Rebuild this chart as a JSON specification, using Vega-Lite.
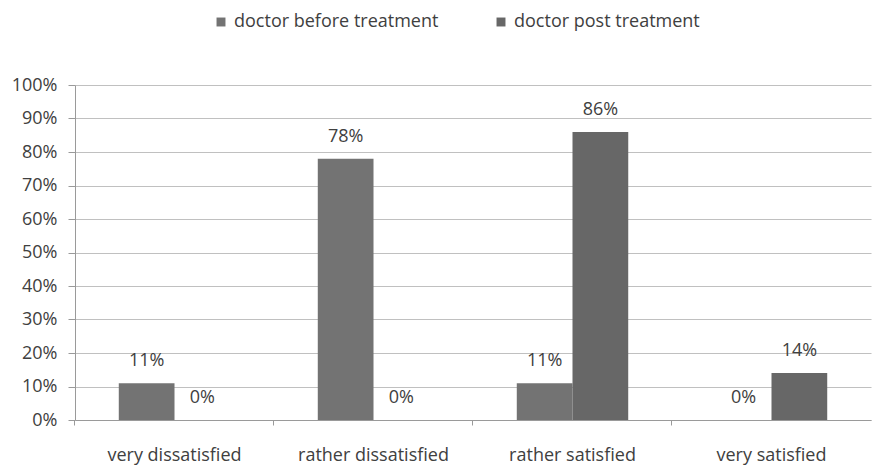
{
  "$schema": "https://vega.github.io/schema/vega-lite/v6.json",
  "autosize": {"type": "none"},
  "width": 796,
  "height": 335,
  "padding": {"left": 75, "top": 85, "right": 1, "bottom": 46},
  "background": "white",
  "data": {
    "values": [
      {"category": "very dissatisfied", "series": "doctor before treatment", "value": 0.11},
      {"category": "very dissatisfied", "series": "doctor post treatment", "value": 0.0},
      {"category": "rather dissatisfied", "series": "doctor before treatment", "value": 0.78},
      {"category": "rather dissatisfied", "series": "doctor post treatment", "value": 0.0},
      {"category": "rather satisfied", "series": "doctor before treatment", "value": 0.11},
      {"category": "rather satisfied", "series": "doctor post treatment", "value": 0.86},
      {"category": "very satisfied", "series": "doctor before treatment", "value": 0.0},
      {"category": "very satisfied", "series": "doctor post treatment", "value": 0.14}
    ]
  },
  "config": {
    "font": "Open Sans",
    "view": {"stroke": null},
    "axis": {"labelFont": "Open Sans", "labelColor": "#404040", "labelFontSize": 18}
  },
  "encoding": {
    "x": {
      "field": "category",
      "type": "nominal",
      "sort": ["very dissatisfied", "rather dissatisfied", "rather satisfied", "very satisfied"],
      "scale": {"paddingInner": 0.44, "paddingOuter": 0.22},
      "axis": {
        "title": null,
        "labelAngle": 0,
        "bandPosition": -0.393,
        "labelOffset": 0,
        "labelPadding": 21,
        "domainColor": "#9a9a9a",
        "tickColor": "#9a9a9a",
        "tickSize": 5,
        "grid": false
      }
    },
    "xOffset": {
      "field": "series",
      "type": "nominal",
      "scale": {"paddingInner": 0, "paddingOuter": 0}
    },
    "y": {
      "field": "value",
      "type": "quantitative",
      "scale": {"domain": [0, 1]},
      "axis": {
        "title": null,
        "format": ".0%",
        "values": [0, 0.1, 0.2, 0.3, 0.4, 0.5, 0.6, 0.7, 0.8, 0.9, 1],
        "domainColor": "#9a9a9a",
        "tickColor": "#9a9a9a",
        "tickSize": 7,
        "labelPadding": 11,
        "gridColor": "#c0c0c0",
        "gridWidth": 1.2
      }
    }
  },
  "layer": [
    {
      "mark": {"type": "bar"},
      "encoding": {
        "color": {
          "field": "series",
          "type": "nominal",
          "scale": {"range": ["#737373", "#676767"]},
          "legend": {
            "title": null,
            "orient": "none",
            "direction": "horizontal",
            "legendX": 137,
            "legendY": -72,
            "symbolType": "square",
            "symbolSize": 80,
            "labelFontSize": 18,
            "labelColor": "#404040",
            "labelFont": "Open Sans",
            "labelLimit": 400,
            "columnPadding": 53,
            "symbolStrokeWidth": 0
          }
        }
      }
    },
    {
      "mark": {"type": "text", "baseline": "middle", "dy": -22, "fontSize": 18, "color": "#404040", "font": "Open Sans"},
      "encoding": {
        "text": {"field": "value", "type": "quantitative", "format": ".0%"}
      }
    }
  ]
}
